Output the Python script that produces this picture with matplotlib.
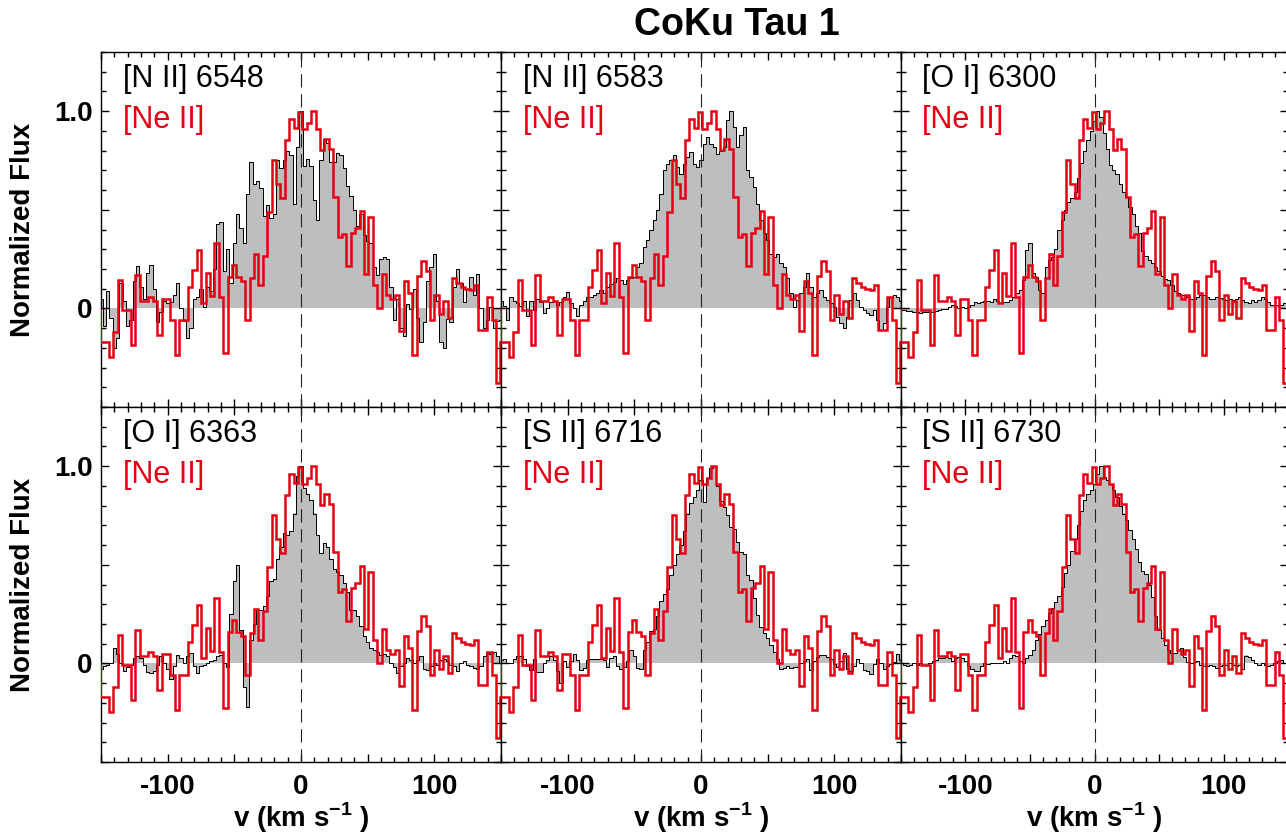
import numpy as np
import matplotlib.pyplot as plt
from matplotlib.ticker import MultipleLocator, FuncFormatter

plt.rcParams['font.family'] = ['Liberation Sans', 'DejaVu Sans']
plt.rcParams['font.weight'] = 'bold'
plt.rcParams['mathtext.fontset'] = 'custom'
plt.rcParams['mathtext.rm'] = 'Liberation Sans:bold'
plt.rcParams['mathtext.bf'] = 'Liberation Sans:bold'

# optical spectra, sampled every 2.5 km/s from -150 to +150
vel = np.arange(-150, 150.1, 2.5)

nii_6548 = [0.05, -0.09, 0.09, -0.05, -0.2, -0.15, 0.13, 0.04, -0.09, -0.06,
            0.14, 0.215, 0.11, 0.05, 0.18, 0.22, 0.1, -0.07, -0.02, 0.04,
            0.027, 0.03, 0.07, 0.13, 0.0, -0.065, -0.15, -0.1, 0.05, 0.06,
            0.1, 0.005, 0.11, 0.09, 0.2, 0.43, 0.44, 0.19, 0.3, 0.13,
            0.33, 0.48, 0.41, 0.33, 0.58, 0.74, 0.63, 0.645, 0.61, 0.47,
            0.525, 0.46, 0.48, 0.75, 0.71, 0.75, 0.8, 0.78, 0.53, 0.82,
            1.0, 0.72, 0.76, 0.72, 0.55, 0.45, 0.75, 0.86, 0.84, 0.74,
            0.74, 0.79, 0.78, 0.71, 0.62, 0.57, 0.5, 0.42, 0.48, 0.37,
            0.34, 0.33, 0.21, 0.17, 0.25, 0.26, 0.25, 0.11, -0.06, 0.05,
            -0.1, -0.14, 0.02, -0.005, 0.1, -0.05, -0.17, -0.07, 0.14, 0.21,
            0.275, 0.04, -0.17, -0.2, -0.055, -0.07, 0.11, 0.2, 0.13, 0.03,
            0.1, 0.16, 0.07, 0.175, 0.0, -0.1, -0.06, 0.008, -0.1, -0.065,
            -0.06]

nii_6583 = [0.04, 0.01, -0.06, 0.06, 0.04, 0.025, 0.01, 0.04, -0.04, 0.04,
            -0.01, 0.05, 0.03, -0.025, 0.0, 0.034, 0.04, 0.017, 0.034, 0.059,
            0.084, 0.025, 0.0, -0.04, 0.017, 0.04, 0.059, 0.059, 0.067, 0.076,
            0.093, 0.076, 0.11, 0.126, 0.135, 0.152, 0.143, 0.126, 0.143, 0.152,
            0.16, 0.211, 0.228, 0.312, 0.346, 0.396, 0.447, 0.497, 0.582, 0.70,
            0.733, 0.75, 0.78, 0.717, 0.683, 0.733, 0.767, 0.792, 0.733, 0.717,
            0.75, 0.835, 0.87, 0.835, 0.818, 0.784, 0.80, 0.818, 0.953, 1.0,
            0.92, 0.82, 0.88, 0.92, 0.70, 0.666, 0.615, 0.53, 0.447, 0.38,
            0.346, 0.278, 0.261, 0.278, 0.228, 0.211, 0.152, 0.076, 0.008, 0.042,
            0.076, 0.11, 0.177, 0.11, 0.059, 0.076, 0.093, 0.059, 0.042, 0.025,
            0.008, -0.042, -0.076, -0.101, -0.042, 0.042, 0.076, 0.042, 0.008, -0.008,
            -0.025, -0.034, -0.008, -0.059, -0.11, -0.076, 0.008, 0.059, 0.067, 0.059,
            0.04]

oi_6300 = [-0.008, -0.01, -0.012, -0.015, -0.017, -0.02, -0.025, -0.017, -0.017, -0.017,
           -0.017, -0.014, -0.008, -0.005, -0.005, 0.008, 0.017, 0.01, 0.0, 0.008,
           0.0, 0.008, 0.017, 0.03, 0.025, 0.03, 0.035, 0.04, 0.03, 0.05,
           0.04, 0.025, 0.034, 0.034, 0.042, 0.059, 0.076, 0.093, 0.143, 0.295,
           0.33, 0.177, 0.16, 0.093, 0.076, 0.21, 0.245, 0.26, 0.30, 0.40,
           0.45, 0.50, 0.54, 0.56, 0.59, 0.66, 0.735, 0.80, 0.855, 0.90,
           0.95, 1.0, 0.97, 0.89, 0.81, 0.725, 0.70, 0.68, 0.63, 0.59,
           0.565, 0.514, 0.48, 0.42, 0.38, 0.29, 0.265, 0.245, 0.23, 0.21,
           0.19, 0.165, 0.15, 0.143, 0.12, 0.09, 0.076, 0.068, 0.068, 0.059,
           0.05, 0.05, 0.059, 0.068, 0.068, 0.059, 0.05, 0.05, 0.059, 0.054,
           0.05, 0.042, 0.05, 0.042, 0.05, 0.059, 0.042, 0.034, 0.025, 0.042,
           0.034, 0.042, 0.059, 0.05, 0.034, 0.017, 0.017, 0.017, 0.017, 0.025,
           0.03]

oi_6363 = [-0.03, -0.015, -0.01, 0.0, 0.08, 0.05, 0.0, -0.04, -0.02, -0.01,
           0.025, 0.035, 0.027, -0.007, -0.045, -0.05, -0.04, -0.007, 0.035, 0.0,
           -0.03, -0.08, -0.015, 0.044, 0.027, 0.0, 0.035, 0.052, -0.015, -0.05,
           -0.015, -0.007, 0.0, 0.01, 0.017, 0.035, 0.044, 0.0, -0.02, 0.25,
           0.42, 0.5, 0.17, -0.12, -0.22, 0.12, 0.2, 0.27, 0.27, 0.29,
           0.34, 0.42, 0.43, 0.53, 0.59, 0.66, 0.65, 0.67, 0.76, 0.95,
           1.0, 0.89, 0.86, 0.83, 0.76, 0.65, 0.56, 0.61, 0.59, 0.53,
           0.48, 0.465, 0.45, 0.41, 0.36, 0.27, 0.27, 0.24, 0.19, 0.14,
           0.11, 0.08, 0.07, 0.06, 0.045, 0.05, 0.035, 0.0, -0.02, -0.05,
           -0.015, 0.0, 0.025, 0.017, 0.0, 0.017, 0.035, -0.03, -0.035, -0.015,
           0.0, -0.007, 0.017, 0.02, 0.01, -0.007, -0.015, -0.04, 0.0, 0.01,
           -0.007, -0.015, -0.025, -0.03, -0.015, 0.035, 0.06, 0.05, 0.06, 0.035,
           0.0]

sii_6716 = [0.015, 0.02, 0.0, 0.0, 0.02, 0.035, 0.035, 0.02, -0.015, -0.035,
            0.02, -0.045, -0.045, 0.0, 0.015, 0.04, 0.015, -0.04, -0.1, 0.012,
            -0.02, 0.01, 0.048, 0.017, -0.033, -0.025, 0.015, 0.022, 0.022, 0.02,
            0.022, 0.017, -0.018, 0.027, 0.035, -0.015, -0.03, -0.02, 0.012, 0.066,
            0.037, -0.022, -0.03, 0.066, 0.11, 0.165, 0.172, 0.24, 0.316, 0.353,
            0.378, 0.448, 0.5, 0.553, 0.6, 0.67, 0.76, 0.815, 0.843, 0.88,
            0.93, 0.82, 0.94, 0.99, 1.0, 0.9, 0.825, 0.795, 0.75, 0.69,
            0.682, 0.615, 0.567, 0.553, 0.45, 0.422, 0.33, 0.245, 0.187, 0.153,
            0.127, 0.094, 0.06, 0.02, -0.03, -0.025, -0.012, -0.022, -0.02, -0.02,
            0.0, 0.012, 0.022, -0.035, 0.01, 0.03, 0.045, 0.045, 0.032, 0.02,
            -0.005, -0.018, 0.01, 0.055, -0.03, -0.038, -0.013, 0.02, 0.0, -0.033,
            -0.037, -0.055, -0.005, 0.022, 0.0, -0.03, -0.012, -0.005, 0.005, 0.05,
            0.015]

sii_6730 = [0.0, -0.007, -0.015, -0.007, 0.0, -0.007, 0.0, -0.007, -0.007, 0.0,
            0.01, 0.017, 0.027, 0.027, 0.034, 0.027, 0.01, 0.027, 0.034, 0.027,
            0.01, -0.015, -0.03, -0.04, -0.037, -0.015, 0.0, -0.003, 0.0, 0.003,
            0.002, 0.0, 0.01, 0.0, 0.027, 0.044, 0.035, 0.01, 0.0, 0.027,
            0.044, 0.07, 0.12, 0.15, 0.19, 0.22, 0.255, 0.28, 0.31, 0.34,
            0.385, 0.46, 0.5, 0.57, 0.63, 0.7, 0.775, 0.83, 0.86, 0.88,
            0.91, 0.96, 1.0, 0.946, 0.93, 0.91, 0.88, 0.845, 0.80, 0.76,
            0.727, 0.676, 0.63, 0.58, 0.515, 0.47, 0.455, 0.40, 0.335, 0.24,
            0.17, 0.13, 0.093, 0.07, 0.055, 0.055, 0.07, 0.08, 0.03, 0.008,
            0.0, 0.008, 0.01, -0.007, -0.012, -0.015, -0.007, -0.015, -0.024, -0.015,
            -0.007, -0.007, 0.0, -0.007, -0.015, -0.007, -0.03, 0.04, 0.03, 0.015,
            0.0, -0.007, 0.0, -0.007, -0.015, -0.007, 0.0, 0.01, 0.017, 0.0,
            -0.01]

# [Ne II] 12.8 micron profile, 3.3 km/s bins starting at -150.8 km/s
neii_start = -150.8
neii_width = 3.3
neii_flux = [-0.17, -0.17, -0.245, -0.12, 0.143, -0.01, -0.01, -0.185, 0.17, 0.04,
             0.04, 0.056, 0.04, -0.135, 0.05, 0.05, -0.06, -0.236, -0.06, -0.06,
             0.11, 0.197, 0.295, 0.027, 0.18, 0.065, 0.33, 0.06, -0.228, 0.157,
             0.222, 0.16, 0.14, -0.06, 0.153, 0.275, 0.12, 0.268, 0.49, 0.75,
             0.632, 0.56, 0.852, 0.962, 0.915, 0.998, 0.91, 0.94, 1.0, 0.91,
             0.805, 0.858, 0.81, 0.567, 0.362, 0.378, 0.213, 0.382, 0.41, 0.494,
             0.172, 0.462, 0.12, 0.003, 0.172, 0.068, 0.05, 0.066, -0.116, 0.137,
             0.08, -0.235, 0.164, 0.24, 0.19, -0.058, 0.07, -0.03, 0.038, -0.05,
             0.152, 0.13, 0.11, 0.1, 0.095, 0.117, -0.112, -0.112, 0.06, -0.06,
             -0.378, -0.17]
neii_edges = neii_start + neii_width * np.arange(len(neii_flux) + 1)

line_names = ['[N II] 6548', '[N II] 6583', '[O I] 6300',
              '[O I] 6363', '[S II] 6716', '[S II] 6730']
line_flux = [nii_6548, nii_6583, oi_6300, oi_6363, sii_6716, sii_6730]

W, H = 1286, 834
fig = plt.figure(figsize=(W / 100, H / 100), dpi=100)

col_left = [101, 501, 901]
col_width = [400, 400, 387]
row_top = [52, 407]
row_h = 355

fill_grey = '#bdbec0'
ne_red = '#e60012'


def xfmt(v, pos):
    return '%d' % round(v) if round(v) % 100 == 0 else ''


def yfmt(v, pos):
    if abs(v) < 1e-6:
        return '0'
    if abs(v - 1) < 1e-6:
        return '1.0'
    return ''


for i, (name, flux) in enumerate(zip(line_names, line_flux)):
    row, col = divmod(i, 3)
    ax = fig.add_axes([col_left[col] / W, 1 - (row_top[row] + row_h) / H,
                       col_width[col] / W, row_h / H])

    ax.fill_between(vel, flux, 0, step='mid', color=fill_grey, lw=0, zorder=1)
    ax.plot(vel, flux, drawstyle='steps-mid', color='k', lw=0.7, zorder=2)
    ax.axvline(0, color='#222222', lw=0.8, ls=(0, (12, 6)), zorder=3)
    ax.stairs(neii_flux, neii_edges, color=ne_red, lw=1.8, zorder=4)

    ax.set_xlim(-150, 150)
    ax.set_ylim(-0.5, 1.3)
    ax.xaxis.set_major_locator(MultipleLocator(50))
    ax.xaxis.set_minor_locator(MultipleLocator(10))
    ax.yaxis.set_major_locator(MultipleLocator(0.5))
    ax.yaxis.set_minor_locator(MultipleLocator(0.1))
    ax.xaxis.set_major_formatter(FuncFormatter(xfmt))
    ax.yaxis.set_major_formatter(FuncFormatter(yfmt))
    ax.tick_params(which='both', direction='in', top=True, right=True,
                   width=1.0, labelsize=20)
    ax.tick_params(which='major', length=5.8)
    ax.tick_params(which='minor', length=3.6)
    ax.tick_params(axis='x', pad=9, labelbottom=(row == 1))
    ax.tick_params(axis='y', pad=6, labelleft=(col == 0))
    for s in ax.spines.values():
        s.set_linewidth(1.0)

    ax.text(0.054, 0.901, name, transform=ax.transAxes, fontsize=22,
            fontweight='normal', color='k', va='baseline')
    ax.text(0.054, 0.785, '[Ne II]', transform=ax.transAxes, fontsize=22,
            fontweight='normal', color=ne_red, va='baseline')

    if col == 0:
        fig.text(23 / W, 1 - (row_top[row] + row_h / 2) / H, 'Normalized Flux',
                 rotation=90, ha='center', va='center', fontsize=20)
    if row == 1:
        fig.text((col_left[col] + col_width[col] / 2) / W, 1 - 818 / H,
                 r'v (km s$^{\mathbf{-1}}$ )', ha='center', va='center',
                 fontsize=20)

fig.text(737 / W, 1 - 25 / H, 'CoKu Tau 1', ha='center', va='center',
         fontsize=27)

fig.savefig('out.png', dpi=100)
